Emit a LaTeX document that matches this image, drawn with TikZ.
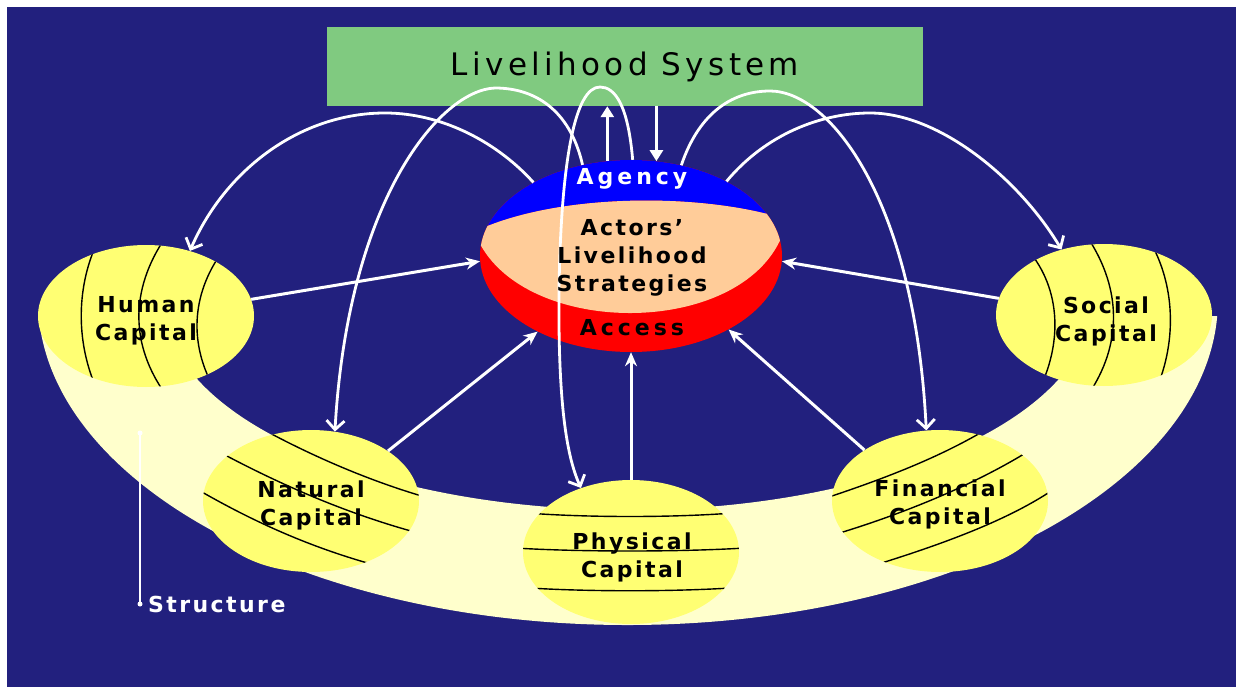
\documentclass[tikz,border=0pt]{standalone}
\usepackage{fontspec}
\setmainfont{DejaVu Sans}
\newfontfamily\capfont[LetterSpace=11]{DejaVu Sans}
\newfontfamily\widefont[LetterSpace=18]{DejaVu Sans}
\newfontfamily\sysfont[LetterSpace=14]{DejaVu Sans}
\usetikzlibrary{arrows.meta,shapes.geometric}
\definecolor{navy}{RGB}{34,32,126}
\definecolor{sysgreen}{RGB}{128,202,128}
\definecolor{capyellow}{RGB}{255,255,115}
\definecolor{bandyellow}{RGB}{255,255,204}
\definecolor{peach}{RGB}{255,204,153}
\definecolor{agblue}{RGB}{0,0,255}
\definecolor{accred}{RGB}{255,0,0}
\begin{document}
\begin{tikzpicture}[x=1pt,y=-1pt,
  capital/.style={ellipse, fill=capyellow, minimum width=216pt, minimum height=142pt, inner sep=0pt},
  captext/.style={font=\capfont\bfseries\fontsize{22}{28}\selectfont, align=center, text=black, inner sep=0pt},
  widetext/.style={font=\widefont\bfseries\fontsize{22}{28}\selectfont, inner sep=0pt},
  hatch/.style={black, line width=1.4pt},
  curvearrow/.style={draw=white, line width=2.8pt, -{Straight Barb[length=9pt,width=18pt]}},
  straightarrow/.style={draw=white, line width=3pt, -{Stealth[length=14pt,width=12pt]}},
  sysarrow/.style={draw=white, line width=3.6pt, -{Triangle[length=11pt,width=13pt]}}
]
\useasboundingbox (0,0) rectangle (1236,687);
\fill[white] (0,0) rectangle (1236,687);
\fill[navy] (7,7) rectangle (1236,687);

% structure band
\fill[bandyellow] (38.7,316) arc[start angle=182.82,end angle=357.18,x radius=590pt,y radius=325pt]
  -- (1091.6,316) arc[start angle=-4.37,end angle=-175.63,x radius=465pt,y radius=210pt] -- cycle;

% capitals
\node[capital] (human) at (146,316) {};
\node[capital] (natural) at (311,501) {};
\node[capital, minimum height=144pt] (physical) at (631,552) {};
\node[capital] (financial) at (940,501) {};
\node[capital] (social) at (1104,315) {};

\node[captext] (humantxt) at (146,321) {Human\\Capital};
\node[captext] (naturaltxt) at (311,505) {Natural\\Capital};
\node[captext] (physicaltxt) at (632,557) {Physical\\Capital};
\node[captext] (financialtxt) at (940,504) {Financial\\Capital};
\node[captext] (socialtxt) at (1106,321) {Social\\Capital};

\begin{scope}
\clip (human.center) ellipse [x radius=108pt, y radius=71pt];
\draw[hatch] (96,245) .. controls (76,290) and (76,345) .. (98,392);
\draw[hatch] (165,238) .. controls (130,290) and (130,345) .. (166,395);
\draw[hatch] (222,252) .. controls (191,295) and (189,345) .. (215,390);
\end{scope}
\begin{scope}
\clip (natural.center) ellipse [x radius=108pt, y radius=71pt];
\draw[hatch] (255,425) .. controls (300,450) and (360,478) .. (425,497);
\draw[hatch] (212,448) .. controls (280,485) and (350,515) .. (422,534);
\draw[hatch] (195,488) .. controls (250,520) and (310,548) .. (382,567);
\end{scope}
\begin{scope}
\clip (physical.center) ellipse [x radius=108pt, y radius=72pt];
\draw[hatch] (515,512) .. controls (580,518) and (680,518) .. (745,512);
\draw[hatch] (515,548) .. controls (580,552) and (680,552) .. (745,548);
\draw[hatch] (515,587) .. controls (580,592) and (680,592) .. (745,587);
\end{scope}
\begin{scope}
\clip (financial.center) ellipse [x radius=108pt, y radius=71pt];
\draw[hatch] (826,498) .. controls (880,480) and (940,458) .. (992,426);
\draw[hatch] (833,535) .. controls (900,515) and (975,485) .. (1032,449);
\draw[hatch] (872,566) .. controls (940,545) and (1010,520) .. (1057,487);
\end{scope}
\begin{scope}
\clip (social.center) ellipse [x radius=108pt, y radius=71pt];
\draw[hatch] (1028,250) .. controls (1062,290) and (1062,345) .. (1038,392);
\draw[hatch] (1088,238) .. controls (1122,290) and (1122,345) .. (1088,395);
\draw[hatch] (1152,245) .. controls (1176,290) and (1176,345) .. (1155,392);
\end{scope}

% central actor ellipse
\begin{scope}
\clip (631,256) ellipse [x radius=151pt, y radius=96pt];
\fill[accred] (470,150) rectangle (795,360);
\fill[agblue] (470,140) -- (470,230) -- (478,230) .. controls (560,193) and (700,193) .. (782,218)
  -- (795,218) -- (795,140) -- cycle;
\fill[peach] (478,230) .. controls (560,193) and (700,193) .. (782,218) -- (782,236)
  .. controls (740,338) and (525,338) .. (478,240) -- cycle;
\end{scope}
\node[ellipse, minimum width=302pt, minimum height=192pt, inner sep=0pt] (ctr) at (631,256) {};

% livelihood system box
\node[fill=sysgreen, minimum width=596pt, minimum height=79pt, inner sep=0pt,
  font=\sysfont\fontsize{31}{36}\selectfont, text=black] (lsys) at (625,66.5) {Livelihood System};

% straight arrows to centre
\draw[straightarrow] (human.9) -- (ctr.182);
\draw[straightarrow] (natural.33) -- (ctr.219);
\draw[straightarrow] (physical.90) -- (ctr.270);
\draw[straightarrow] (financial.146) -- (ctr.323);
\draw[straightarrow] (social.171) -- (ctr.358);

% arrows to/from livelihood system
\draw[sysarrow] (ctr.104) -- (ctr.104 |- lsys.south);
\draw[sysarrow] (ctr.75 |- lsys.south) -- (ctr.75);

% curved arrows
\draw[curvearrow] (ctr.143) .. controls (500,145) and (445,113) .. (385,113)
  .. controls (300,113) and (225,170) .. (human.56);
\draw[curvearrow] (ctr.118) .. controls (570,110) and (535,88) .. (495,88)
  .. controls (440,90) and (348,200) .. (natural.71);
\draw[curvearrow] (ctr.89) .. controls (628,105) and (615,87) .. (600,87)
  .. controls (575,87) and (561,160) .. (559,290)
  .. controls (558,400) and (566,455) .. (physical.128);
\draw[curvearrow] (ctr.61) .. controls (700,110) and (735,91) .. (770,91)
  .. controls (830,91) and (915,200) .. (financial.101);
\draw[curvearrow] (ctr.38) .. controls (765,135) and (820,113) .. (870,113)
  .. controls (940,113) and (1020,180) .. (social.123);

% central texts
\node[widetext, text=white, anchor=base] (agencytxt) at (632,185) {Agency};
\node[captext] (strattxt) at (632,258) {Actors’\\Livelihood\\Strategies};
\node[widetext, text=black, anchor=base] (accesstxt) at (632,335) {Access};

% structure marker
\coordinate (stop) at (140,433);
\coordinate (sbot) at (140,604);
\draw[white, line width=2pt] (stop) -- (sbot);
\fill[white] (stop) circle (2.5pt) (sbot) circle (2.5pt);
\node[captext, text=white, anchor=west] (structtxt) at (148,604) {Structure};
\end{tikzpicture}
\end{document}
